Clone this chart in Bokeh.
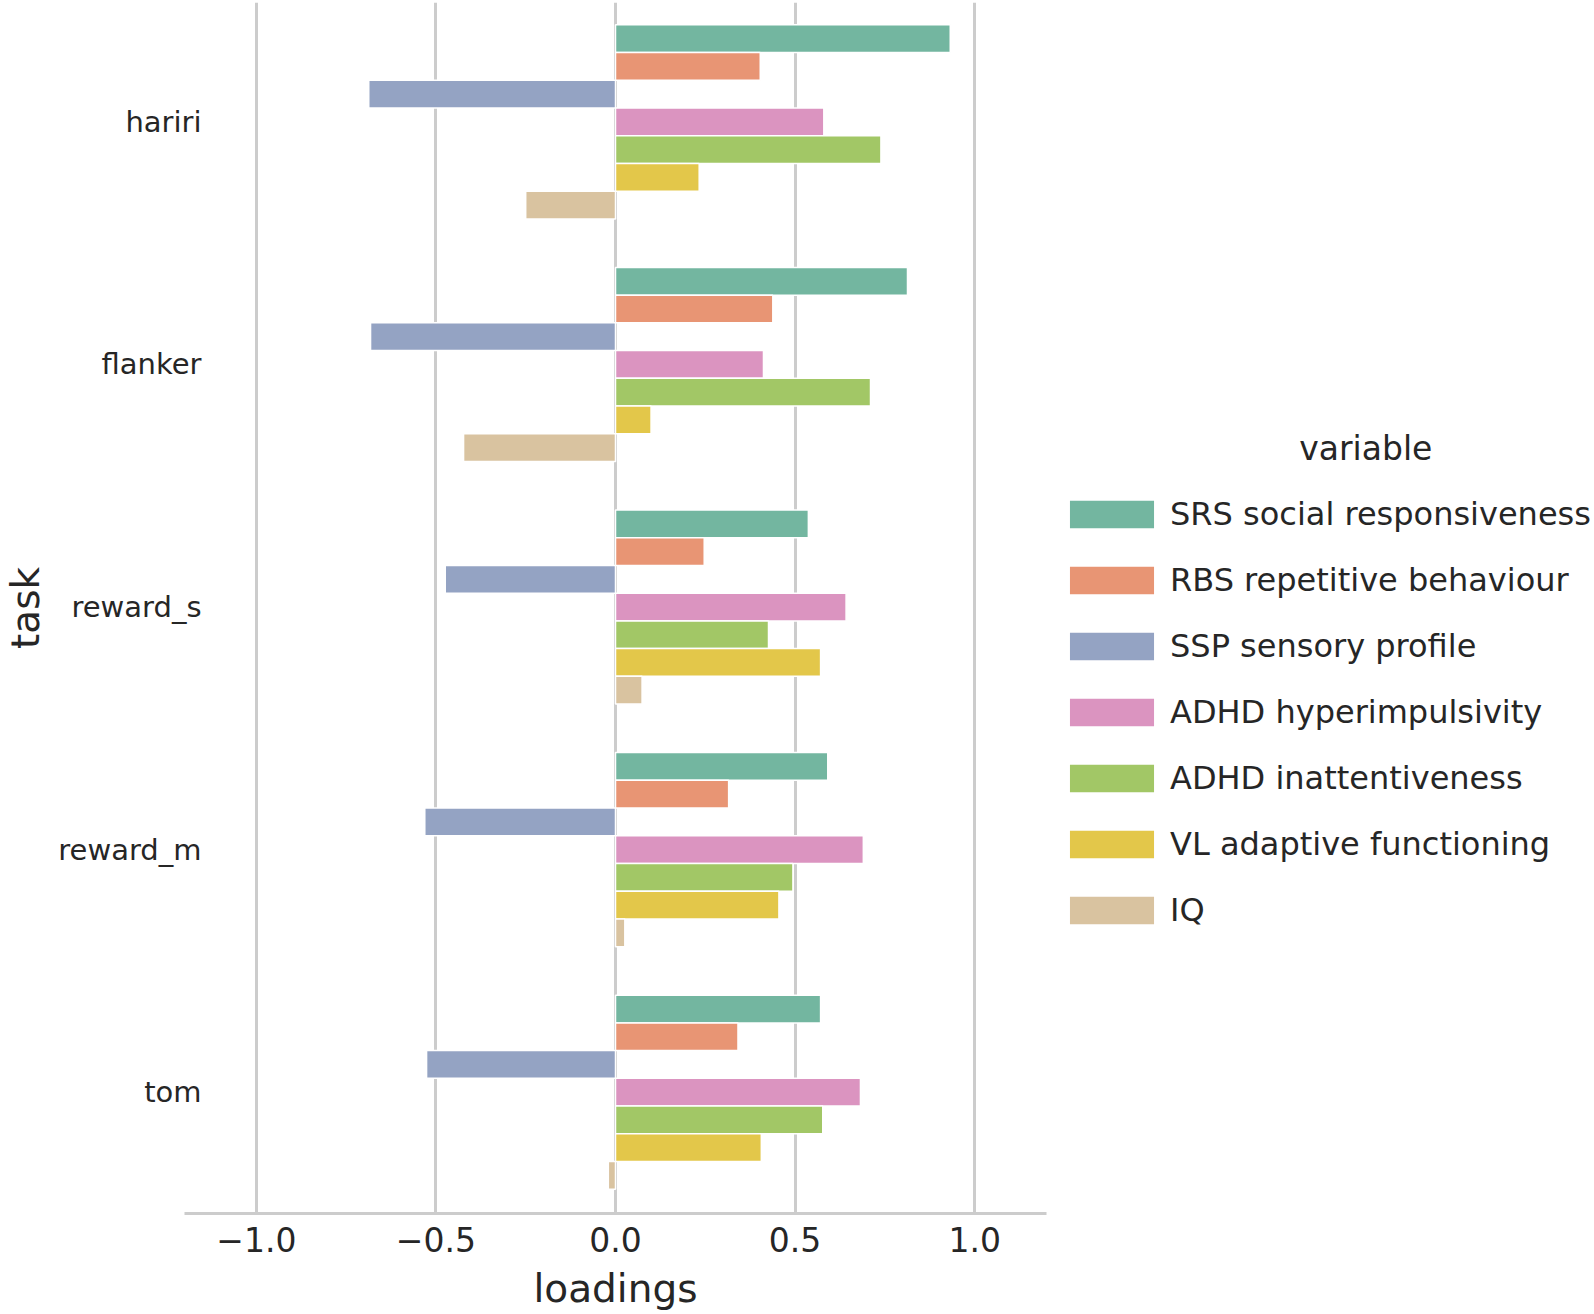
from bokeh.plotting import figure
from bokeh.models import Range1d, FixedTicker, ColumnDataSource, Legend, LegendItem
from bokeh.transform import dodge
from bokeh.embed import file_html
from bokeh.resources import INLINE

tasks = ["hariri", "flanker", "reward_s", "reward_m", "tom"]
variables = ["SRS social responsiveness", "RBS repetitive behaviour", "SSP sensory profile",
             "ADHD hyperimpulsivity", "ADHD inattentiveness", "VL adaptive functioning", "IQ"]
colors = ["#73b6a0", "#e89574", "#94a3c3", "#db94c0", "#a2c766", "#e3c74a", "#d9c3a0"]

srs = [0.932, 0.813, 0.537, 0.591, 0.571]
rbs = [0.403, 0.438, 0.247, 0.315, 0.341]
ssp = [-0.687, -0.682, -0.474, -0.531, -0.526]
adhd_hyper = [0.580, 0.412, 0.642, 0.690, 0.682]
adhd_inatt = [0.739, 0.710, 0.426, 0.494, 0.577]
vl = [0.233, 0.099, 0.571, 0.455, 0.406]
iq = [-0.250, -0.423, 0.074, 0.026, -0.020]
series = [srs, rbs, ssp, adhd_hyper, adhd_inatt, vl, iq]

x_ticks = [-1.0, -0.5, 0.0, 0.5, 1.0]
x_labels = ["\u22121.0", "\u22120.5", "0.0", "0.5", "1.0"]

FONT = "DejaVu Sans"
TXT = "#262626"

p = figure(frame_width=862, frame_height=1211, output_backend="svg", toolbar_location=None,
           x_range=Range1d(-1.2, 1.2), y_range=Range1d(4.5, -0.492),
           min_border_left=184, min_border_top=2, min_border_right=0, min_border_bottom=0)
p.outline_line_color = None
p.background_fill_color = "white"

n = len(variables)
bw = 0.8 / n
items = []
for j, (var, vals, col) in enumerate(zip(variables, series, colors)):
    src = ColumnDataSource(dict(idx=list(range(len(tasks))), val=vals))
    r = p.hbar(y=dodge("idx", (j - (n - 1) / 2) * bw, range=p.y_range), right="val", left=0,
               height=bw, source=src, fill_color=col, line_color="white", line_width=1.5)
    items.append(LegendItem(label=var, renderers=[r]))

# x axis
p.xaxis.ticker = FixedTicker(ticks=x_ticks)
p.xaxis.major_label_overrides = {t: l for t, l in zip(x_ticks, x_labels)}
p.xaxis.axis_line_color = "#cccccc"
p.xaxis.axis_line_width = 3
p.xaxis.major_tick_line_color = None
p.xaxis.minor_tick_line_color = None
p.xaxis.major_label_text_font = FONT
p.xaxis.major_label_text_font_size = "33px"
p.xaxis.major_label_text_color = TXT
p.xaxis.major_label_standoff = 7
p.xaxis.axis_label = "loadings"
p.xaxis.axis_label_text_font = FONT
p.xaxis.axis_label_text_font_size = "39px"
p.xaxis.axis_label_text_font_style = "normal"
p.xaxis.axis_label_text_color = TXT
p.xaxis.axis_label_standoff = 11

# y axis
p.yaxis.ticker = FixedTicker(ticks=list(range(len(tasks))))
p.yaxis.major_label_overrides = {i: t for i, t in enumerate(tasks)}
p.yaxis.axis_line_color = None
p.yaxis.major_tick_line_color = None
p.yaxis.minor_tick_line_color = None
p.yaxis.major_label_text_font = FONT
p.yaxis.major_label_text_font_size = "29px"
p.yaxis.major_label_text_color = TXT
p.yaxis.major_label_standoff = -23
p.yaxis.axis_label = "task"
p.yaxis.axis_label_text_font = FONT
p.yaxis.axis_label_text_font_size = "39px"
p.yaxis.axis_label_text_font_style = "normal"
p.yaxis.axis_label_text_color = TXT
p.yaxis.axis_label_standoff = 7

p.xgrid.grid_line_color = "#cccccc"
p.xgrid.grid_line_width = 3
p.ygrid.grid_line_color = None

legend = Legend(items=items, location=(12, 284), title="\u00a0" * 23 + "variable")
legend.title_text_font = FONT
legend.title_text_font_size = "33px"
legend.title_text_font_style = "normal"
legend.title_text_color = TXT
legend.title_standoff = 27
legend.label_text_font = FONT
legend.label_text_font_size = "32px"
legend.label_text_color = TXT
legend.glyph_width = 107
legend.glyph_height = 36
legend.label_height = 27
legend.label_standoff = 5
legend.spacing = 28
legend.padding = 8
legend.margin = 0
legend.border_line_color = None
legend.background_fill_alpha = 0
p.add_layout(legend, "right")

open("out.html", "w").write(file_html(p, INLINE))
